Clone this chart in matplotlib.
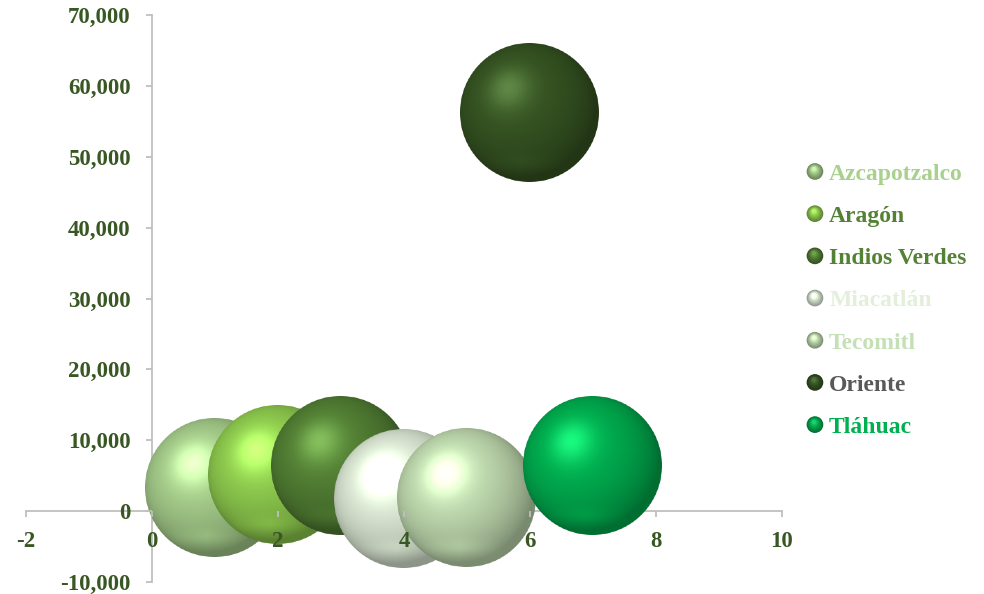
import numpy as np
import matplotlib
matplotlib.use("Agg")
import matplotlib.pyplot as plt
from matplotlib.colors import to_rgb
from matplotlib.offsetbox import OffsetImage, AnnotationBbox
from matplotlib.legend_handler import HandlerBase
from matplotlib.lines import Line2D
from matplotlib.patches import Circle

plt.rcParams['axes.unicode_minus'] = False

# data
names = ['Azcapotzalco', 'Aragón', 'Indios Verdes', 'Miacatlán', 'Tecomitl', 'Oriente', 'Tláhuac']
x_vals = [1, 2, 3, 4, 5, 6, 7]
y_vals = [3400, 5100, 6500, 1800, 1900, 56200, 6400]
bubble_size = [1, 1, 1, 1, 1, 1, 1]
colors = ['#A9D18E', '#92D050', '#548235', '#E2EFDA', '#C5E0B4', '#375623', '#00B050']
text_colors = ['#A9D18E', '#548235', '#548235', '#E2EFDA', '#C5E0B4', '#595959', '#00B050']

axis_green = '#385723'
serif = ['Liberation Serif', 'DejaVu Serif']


def sphere_image(color, n=200):
    # shaded ball, light from upper left
    base = np.array(to_rgb(color))
    c = (np.arange(n) + 0.5) / n * 2 - 1
    u, v = np.meshgrid(c, c)
    r2 = u**2 + v**2
    z = np.sqrt(np.clip(1 - r2, 0, 1))
    nx, ny, nz = u, -v, z
    L = np.array([-0.3, 0.35, 0.88])
    L = L / np.linalg.norm(L)
    diff = np.clip(nx * L[0] + ny * L[1] + nz * L[2], 0, 1)
    spec = diff ** 20
    # soft bounce light near the bottom rim
    bounce = np.exp(-((v - 0.72) ** 2) / 0.015) * np.clip(1 - np.abs(u + 0.1) * 1.5, 0, 1) * 0.1
    shade = 0.62 + 0.4 * diff + bounce
    rgb = base[None, None, :] * shade[..., None]
    rgb = rgb + spec[..., None] * (base[None, None, :] * 0.25 + 0.1)
    rgb = np.clip(rgb, 0, 1)
    dist = np.sqrt(r2) * n / 2
    alpha = np.clip(n / 2 - dist + 0.5, 0, 1)
    return np.dstack([rgb, alpha])


class SphereHandler(HandlerBase):
    def create_artists(self, legend, orig_handle, xdescent, ydescent,
                       width, height, fontsize, trans):
        col = np.array(to_rgb(orig_handle.get_color()))
        r = 6.0
        cx = width / 2 - xdescent
        cy = height / 2 - ydescent
        arts = []
        steps = 8
        for k in range(steps):
            f = k / steps
            rr = r * (1 - 0.85 * f)
            shift = r * 0.35 * f
            c = np.clip(col * (0.65 + 0.5 * f) + 0.12 * f ** 3, 0, 1)
            arts.append(Circle((cx - shift * 0.4, cy + shift), rr, color=c,
                               transform=trans, lw=0))
        return arts


fig = plt.figure(figsize=(9.84, 5.94), dpi=100)
ax = fig.add_axes([0.0264, 0.0202, 0.7683, 0.9545])
ax.set_xlim(-2, 10)
ax.set_ylim(-10000, 70000)

# bubbles as shaded spheres
max_radius_px = 69.5
for i in range(len(names)):
    r_px = max_radius_px * np.sqrt(bubble_size[i] / max(bubble_size))
    img = sphere_image(colors[i])
    zoom = 2 * r_px / (img.shape[0] * fig.dpi / 72)
    ab = AnnotationBbox(OffsetImage(img, zoom=zoom), (x_vals[i], y_vals[i]),
                        frameon=False, pad=0, zorder=2 + i * 0.01)
    ax.add_artist(ab)

for side in ['top', 'right']:
    ax.spines[side].set_visible(False)
ax.spines['left'].set_position(('data', 0))
ax.spines['bottom'].set_position(('data', 0))
for side in ['left', 'bottom']:
    ax.spines[side].set_color('#BFBFBF')
    ax.spines[side].set_linewidth(1.3)
    ax.spines[side].set_zorder(1)

ax.set_xticks([-2, 0, 2, 4, 6, 8, 10])
ax.set_yticks(np.arange(-10000, 70001, 10000))
ax.yaxis.set_major_formatter(matplotlib.ticker.FuncFormatter(lambda v, p: f'{int(v):,}'))
ax.tick_params(axis='both', direction='out', length=4.5, width=1.3, color='#BFBFBF',
               labelcolor=axis_green, labelsize=16.5)
ax.tick_params(axis='x', pad=10)
ax.tick_params(axis='y', pad=11)
for lab in ax.get_xticklabels() + ax.get_yticklabels():
    lab.set_family(serif)
    lab.set_fontweight('bold')
ax.xaxis.set_zorder(3)
ax.yaxis.set_zorder(3)

# legend with small sphere markers
handles = [Line2D([], [], color=c) for c in colors]
leg = fig.legend(handles, names, loc='center left', bbox_to_anchor=(0.821, 0.494),
                 frameon=False, borderpad=0, borderaxespad=0, handlelength=0.6,
                 handletextpad=0.3, labelspacing=0.875,
                 prop={'family': serif, 'weight': 'bold', 'size': 17},
                 handler_map={Line2D: SphereHandler()})
for t, c in zip(leg.get_texts(), text_colors):
    t.set_color(c)

fig.savefig('out.png', dpi=100)
